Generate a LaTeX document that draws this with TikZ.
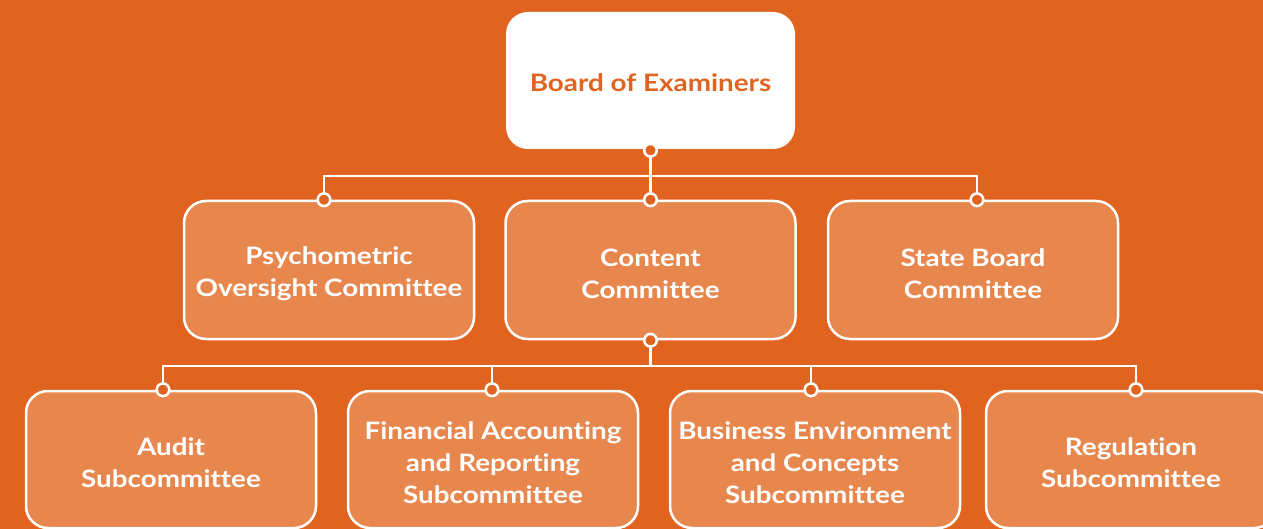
\documentclass[tikz,border=0pt]{standalone}
\usepackage{fontspec}
\setmainfont{Lato}[UprightFont=* Bold,FakeStretch=1.16,Ligatures=NoCommon]
\definecolor{bg}{HTML}{E0641F}
\definecolor{boxfill}{HTML}{E8874D}
\newcommand{\boxtext}[1]{\raisebox{-3.5pt}[\height][\depth]{\parbox{280pt}{\centering #1}}}
\begin{document}
\begin{tikzpicture}[x=1pt,y=-1pt,
  box/.style={draw=white,line width=2.5pt,fill=boxfill,rounded corners=22pt,
    minimum width=290pt,minimum height=137pt,align=center,text=white,
    font=\fontsize{24}{32}\selectfont,inner sep=0pt},
  topbox/.style={box,fill=white,text=bg,draw=none},
  conn/.style={draw=white,line width=2.5pt},
  dot/.style={draw=white,fill=bg,line width=2.5pt}]
\fill[bg] (0,0) rectangle (1263,529);
\useasboundingbox (0,0) rectangle (1263,529);
\node[topbox,minimum width=289pt] (top) at (650.5,80.5) {\raisebox{-2pt}[\height][\depth]{Board of Examiners}};
\node[box,minimum height=138pt] (m1) at (329,270) {\boxtext{Psychometric\\Oversight Committee}};
\node[box,minimum height=138pt] (m2) at (650.5,270) {\boxtext{Content\\Committee}};
\node[box,minimum height=138pt] (m3) at (973,270) {\boxtext{State Board\\Committee}};
\node[box] (b1) at (171,459.5) {\boxtext{Audit\\Subcommittee}};
\node[box] (b2) at (493,459.5) {\boxtext{Financial Accounting\\and Reporting\\Subcommittee}};
\node[box] (b3) at (815,459.5) {\boxtext{Business Environment\\and Concepts\\Subcommittee}};
\node[box] (b4) at (1131,459.5) {\boxtext{Regulation\\Subcommittee}};
\coordinate (h1) at (0,176);
\coordinate (h2) at (0,366);
\coordinate (p1) at ([xshift=-5pt]m1.north);
\coordinate (p3) at ([xshift=4pt]m3.north);
\coordinate (q1) at ([xshift=-8pt]b1.north);
\coordinate (q2) at ([xshift=-1pt]b2.north);
\coordinate (q3) at ([xshift=-4pt]b3.north);
\coordinate (q4) at ([xshift=5pt]b4.north);
\draw[conn] (top.south) -- (m2.north);
\draw[conn] (p1) -- (p1 |- h1) -- (p3 |- h1) -- (p3);
\draw[conn] (m2.south) -- (m2.south |- h2);
\draw[conn] (q1) -- (q1 |- h2) -- (q4 |- h2) -- (q4);
\draw[conn] (q2) -- (q2 |- h2);
\draw[conn] (q3) -- (q3 |- h2);
\foreach \c in {top.south,m2.north,p1,p3,m2.south,q1,q2,q3,q4}
  \draw[dot] (\c) circle (6.3pt);
\end{tikzpicture}
\end{document}
